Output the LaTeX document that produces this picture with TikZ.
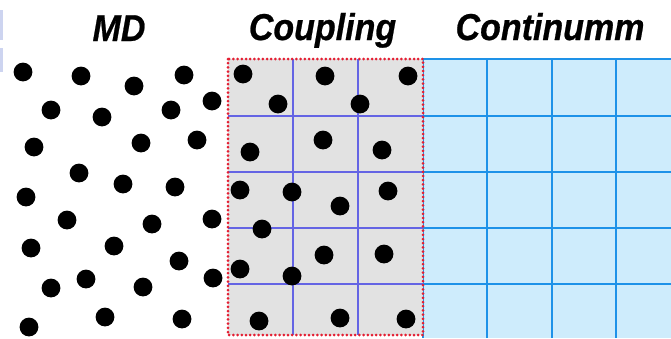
\documentclass[tikz,border=0pt]{standalone}
\usepackage{fontspec}
\setmainfont{Liberation Sans}
\newfontfamily\titlefont[FakeBold=0.7]{Liberation Sans Bold Italic}
\definecolor{contfill}{RGB}{206,236,252}
\definecolor{contline}{RGB}{30,146,232}
\definecolor{coupfill}{RGB}{226,226,226}
\definecolor{coupline}{RGB}{100,100,228}
\definecolor{coupred}{RGB}{228,30,50}
\definecolor{edgeblue}{RGB}{205,212,240}
\tikzset{
  title/.style={font=\fontsize{34}{34}\titlefont, anchor=base, inner sep=0pt, yscale=1.1},
  contgrid/.style={draw=contline, line width=2.6pt},
  coupgrid/.style={draw=coupline, line width=1.1pt},
  redborder/.style={draw=coupred, line width=3pt, line cap=round, dash pattern=on 0pt off 4.2pt},
  atom/.style={fill=black}
}
\begin{document}
\begin{tikzpicture}[x=1pt,y=-1pt]
\useasboundingbox (0,0) rectangle (671,338);
\fill[white] (0,0) rectangle (671,338);
% left edge artifact
\fill[edgeblue] (0,10) rectangle (2.5,40);
\fill[edgeblue] (0,48) rectangle (2.5,72);
% continuum region
\fill[contfill] (423,59) rectangle (671,338);
\foreach \x in {423,487,552,616} \draw[contgrid] (\x,59) -- (\x,338);
\foreach \y in {59,116,172,228,284} \draw[contgrid] (423,\y) -- (671,\y);
% coupling region
\fill[coupfill] (228,59) rectangle (423,335);
\foreach \x in {293,358} \draw[coupgrid] (\x,59) -- (\x,335);
\foreach \y in {116,172,228,284} \draw[coupgrid] (228,\y) -- (423,\y);
\draw[redborder] (228,59) rectangle (423,335);
% titles
\node[title] (md) at (119,41) {MD};
\node[title] (coupling) at (322.5,40) {Coupling};
\node[title] (continuum) at (550,40) {Continumm};
% MD atoms
\foreach \p in {(23,72),(81,76),(134,86),(184,75),(212,101),(51,110),(102,117),(171,110),
  (34,147),(141,143),(197,140),(79,173),(123,184),(175,187),(26,197),(67,220),(152,224),
  (212,219),(31,248),(114,246),(179,261),(86,279),(51,288),(143,287),(213,278),
  (105,317),(182,319),(29,327)}
  \fill[atom] \p circle (9.4);
% coupling atoms
\foreach \p in {(243,74),(325,76),(408,76),(278,104),(360,104),(250,152),(323,140),(382,150),
  (240,190),(292,192),(388,191),(340,206),(262,229),(324,255),(384,254),(240,269),(292,276),
  (259,321),(340,318),(406,319)}
  \fill[atom] \p circle (9.4);
\end{tikzpicture}
\end{document}
